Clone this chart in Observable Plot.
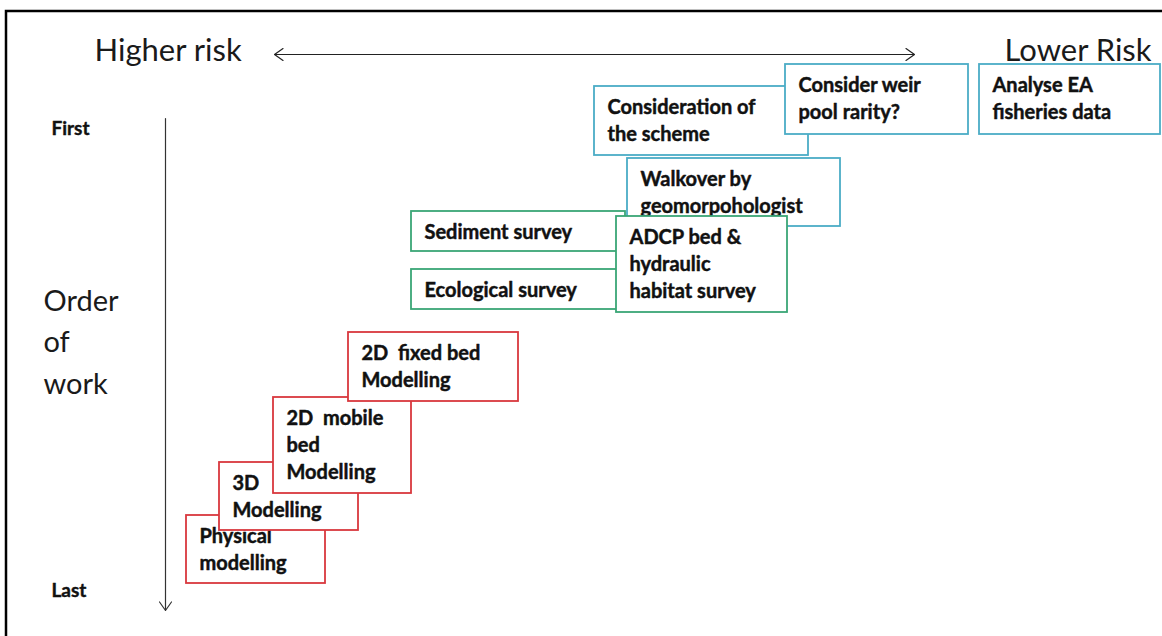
<!DOCTYPE html>
<html>
<head>
<meta charset="utf-8">
<script src="https://cdn.jsdelivr.net/npm/d3@7"></script>
<script src="https://cdn.jsdelivr.net/npm/@observablehq/plot@0.6"></script>
<style>
  html, body { margin: 0; padding: 0; background: #ffffff; }
  #chart svg { display: block; font-family: Lato, "Open Sans", sans-serif; }
</style>
</head>
<body>
<div id="chart"></div>
<script>
// ---- Data (risk position left→right, order of work top→bottom) ----
// Boxes, listed in drawing order (later boxes sit on top of earlier ones)
const steps = [
  "Consideration of\nthe scheme",
  "Consider weir\npool rarity?",
  "Analyse EA\nfisheries data",
  "Walkover by\ngeomorpohologist",
  "Sediment survey",
  "Ecological survey",
  "ADCP bed &\nhydraulic\nhabitat survey",
  "Physical\nmodelling",
  "3D\nModelling",
  "2D  mobile\nbed\nModelling",
  "2D  fixed bed\nModelling"
];
const stepGroup = ["desk", "desk", "desk", "desk", "survey", "survey", "survey", "model", "model", "model", "model"];
const riskStart = [594, 785, 979, 627, 411, 411, 616, 186, 219, 273, 348];
const riskEnd   = [808, 968, 1160, 840, 625, 625, 787, 325, 358, 411, 518];
const orderStart = [86, 64, 64, 158, 211, 269, 216, 515, 462, 397, 332];
const orderEnd   = [155, 134, 134, 226, 251, 309, 312, 583, 530, 493, 401];

const groupNames = ["desk", "survey", "model"];
const groupColors = ["#4bacc6", "#3aa676", "#d9383e"];

// Axis arrows and their end labels
const riskArrow = [274, 914];      // horizontal extent of the risk arrow
const riskArrowLevel = 54;
const orderArrow = [118, 610];     // vertical extent of the order arrow
const orderArrowPos = 165;
const riskLabels = ["Higher risk", "Lower Risk"];
const riskLabelPos = [94, 1004];
const riskLabelLevel = 60;
const orderLabels = ["First", "Last"];
const orderLabelPos = [134, 596];
const orderLabelX = 51;
const orderTitle = ["Order\nof\nwork"];
const orderTitleX = 43;
const orderTitleLevel = 393;
const frame = [{x1: 6, x2: 1175, y1: 11, y2: 650}];

// ---- Build tables ----
const boxes = steps.map((label, i) => ({
  label, group: stepGroup[i],
  x1: riskStart[i], x2: riskEnd[i], y1: orderStart[i], y2: orderEnd[i]
}));
const riskMid = (riskArrow[0] + riskArrow[1]) / 2;
const hArrows = riskArrow.map(x => ({x1: riskMid, x2: x, y1: riskArrowLevel, y2: riskArrowLevel}));
const vArrows = [{x1: orderArrowPos, x2: orderArrowPos, y1: orderArrow[0], y2: orderArrow[1]}];
const riskText = riskLabels.map((t, i) => ({t, x: riskLabelPos[i], y: riskLabelLevel}));
const orderText = orderLabels.map((t, i) => ({t, x: orderLabelX, y: orderLabelPos[i]}));
const titleText = orderTitle.map(t => ({t, x: orderTitleX, y: orderTitleLevel}));

const W = 1162, H = 636;

const boxMarks = boxes.flatMap(b => [
  Plot.rect([b], {
    x1: "x1", x2: "x2", y1: "y1", y2: "y2",
    fill: "white", stroke: "group", strokeWidth: 1.8
  }),
  Plot.text([b], {
    x: "x1", y: "y1", text: "label",
    textAnchor: "start", lineAnchor: "top",
    dx: 13, dy: 8, fontSize: 20, fontWeight: "bold",
    lineHeight: 27 / 20, fill: "#111", stroke: "#111", strokeWidth: 0.45
  })
]);

const chart = Plot.plot({
  width: W, height: H,
  marginTop: 0, marginRight: 0, marginBottom: 0, marginLeft: 0,
  x: {domain: [0, W], range: [0, W], axis: null},
  y: {domain: [0, H], range: [0, H], axis: null},
  color: {domain: groupNames, range: groupColors},
  style: {fontFamily: "Lato, 'Open Sans', sans-serif", background: "white"},
  marks: [
    Plot.rect(frame, {x1: "x1", x2: "x2", y1: "y1", y2: "y2", fill: "none", stroke: "black", strokeWidth: 2.5}),
    Plot.arrow(hArrows, {x1: "x1", y1: "y1", x2: "x2", y2: "y2", stroke: "#222", strokeWidth: 1.2, headLength: 13, headAngle: 70}),
    Plot.arrow(vArrows, {x1: "x1", y1: "y1", x2: "x2", y2: "y2", stroke: "#333", strokeWidth: 1.2, headLength: 13, headAngle: 70}),
    Plot.text(riskText, {x: "x", y: "y", text: "t", textAnchor: "start", lineAnchor: "bottom", fontSize: 31, fill: "#1a1a1a"}),
    Plot.text(orderText, {x: "x", y: "y", text: "t", textAnchor: "start", lineAnchor: "bottom", fontSize: 19, fontWeight: "bold", fill: "#111", stroke: "#111", strokeWidth: 0.4}),
    Plot.text(titleText, {x: "x", y: "y", text: "t", textAnchor: "start", lineAnchor: "bottom", fontSize: 29, lineHeight: 41.5 / 29, fill: "#1a1a1a"}),
    ...boxMarks
  ]
});
document.getElementById("chart").appendChild(chart);
</script>
</body>
</html>
